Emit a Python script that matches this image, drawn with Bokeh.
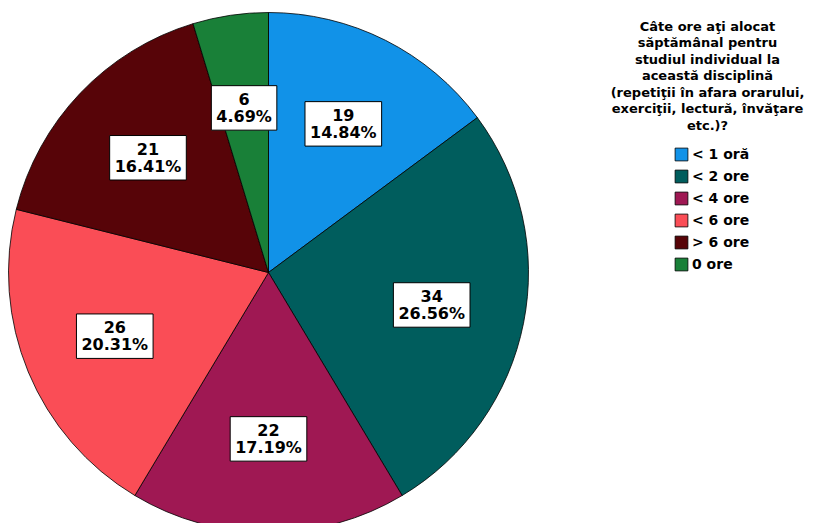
import numpy as np
from bokeh.plotting import figure
from bokeh.models import ColumnDataSource, Label, Legend, LegendItem, Range1d
from bokeh.core.properties import value
from bokeh.embed import file_html
from bokeh.resources import INLINE

categories = ["< 1 oră", "< 2 ore", "< 4 ore", "< 6 ore", "> 6 ore", "0 ore"]
counts = [19, 34, 22, 26, 21, 6]
colors = ["#1192e8", "#005d5d", "#9f1853", "#fa4d56", "#570408", "#198038"]
title_text = ("Câte ore aţi alocat\nsăptămânal pentru\nstudiul individual la\n"
              "această disciplină\n(repetiţii în afara orarului,\n"
              "exerciţii, lectură, învăţare\netc.)?")

W, H = 806, 523
cx, cy, R = 268, 251, 260
lab_r = 0.64 * R

vals = np.array(counts, dtype=float)
total = vals.sum()
frac = vals / total
cum = np.cumsum(frac)
start = np.pi / 2 - 2 * np.pi * (cum - frac)
end = np.pi / 2 - 2 * np.pi * cum
mid = (start + end) / 2
labels = [f"{c}\n{c / total * 100:.2f}%" for c in counts]

src = ColumnDataSource(dict(
    cat=categories, start=start, end=end, color=colors,
    lx=cx + lab_r * np.cos(mid), ly=cy + lab_r * np.sin(mid), label=labels,
))

p = figure(width=W, height=H, x_range=Range1d(0, W), y_range=Range1d(0, H),
           output_backend="svg", toolbar_location=None, min_border=0,
           x_axis_type=None, y_axis_type=None)
p.grid.visible = False
p.outline_line_color = None

wedges = p.wedge(x=cx, y=cy, radius=R, start_angle="start", end_angle="end",
                 direction="clock", fill_color="color", line_color="#000000",
                 line_width=0.8, source=src)

p.text(x="lx", y="ly", text="label", source=src, anchor="center",
       text_align="center", text_baseline="middle",
       text_font=value("DejaVu Sans"), text_font_style="bold",
       text_font_size="16px", text_line_height=0.92, text_color="#000000",
       background_fill_color="white", border_line_color="#000000",
       border_line_width=1, padding=(5, 4))

legend = Legend(items=[LegendItem(label=c, renderers=[wedges], index=i)
                       for i, c in enumerate(categories)],
                location=(673, 251), orientation="vertical",
                glyph_width=16, glyph_height=16, label_height=16,
                label_standoff=3, spacing=6, padding=0, margin=0,
                border_line_color=None, background_fill_alpha=0,
                label_text_font="DejaVu Sans", label_text_font_style="bold",
                label_text_font_size="14px", label_text_color="#000000")
p.add_layout(legend)

p.add_layout(Label(x=707, y=505, text=title_text, text_align="center",
                   text_baseline="top", text_font="DejaVu Sans",
                   text_font_style="bold", text_font_size="13px",
                   text_line_height=1.1, text_color="#000000"))

open("out.html", "w").write(file_html(p, INLINE))
